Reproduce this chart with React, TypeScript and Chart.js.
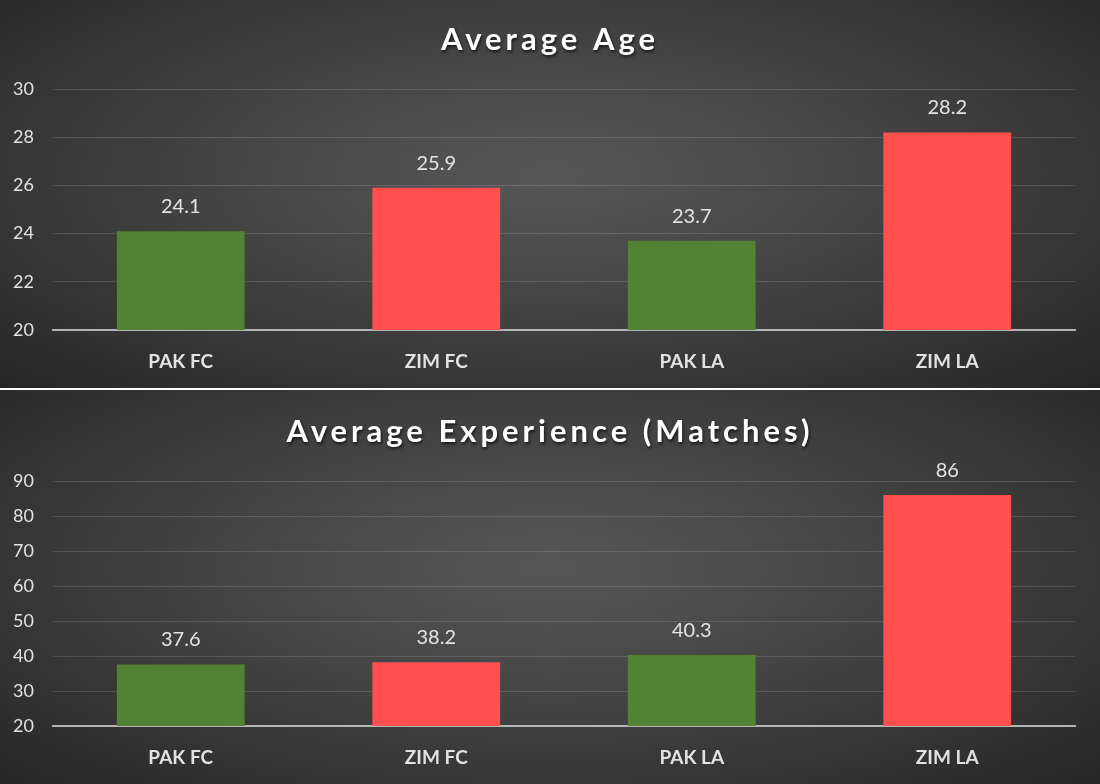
import React, { useEffect, useRef } from "react";
import { Chart, registerables } from "chart.js";

Chart.register(...registerables);

const categories = ["PAK FC", "ZIM FC", "PAK LA", "ZIM LA"];
const ageValues = [24.1, 25.9, 23.7, 28.2];
const experienceValues = [37.6, 38.2, 40.3, 86];
const barColors = ["#548235", "#FF4F4F", "#548235", "#FF4F4F"];
const ageTitle = "Average Age";
const experienceTitle = "Average Experience (Matches)";
const ageTicks = { min: 20, max: 30, step: 2 };
const experienceTicks = { min: 20, max: 90, step: 10 };

const FONT = "Lato, 'Open Sans', sans-serif";

type PanelProps = {
  title: string;
  values: number[];
  ticks: { min: number; max: number; step: number };
  width: number;
  height: number;
  top: number;
  padTop: number;
  titleY: number;
};

function ChartPanel({ title, values, ticks, width, height, top, padTop, titleY }: PanelProps) {
  const ref = useRef<HTMLCanvasElement | null>(null);

  useEffect(() => {
    if (!ref.current) return;
    const valueLabels = {
      id: "valueLabels",
      afterDatasetsDraw(chart: any) {
        const ctx = chart.ctx;
        const meta = chart.getDatasetMeta(0);
        ctx.save();
        ctx.font = `20px ${FONT}`;
        ctx.fillStyle = "#e4e4e4";
        ctx.textAlign = "center";
        ctx.textBaseline = "alphabetic";
        meta.data.forEach((bar: any, i: number) => {
          ctx.fillText(String(chart.data.datasets[0].data[i]), bar.x, bar.y - 18);
        });
        ctx.restore();
      },
    };
    const titlePlugin = {
      id: "shadowTitle",
      afterDraw(chart: any) {
        const ctx = chart.ctx;
        ctx.save();
        ctx.font = `bold 31px ${FONT}`;
        (ctx as any).letterSpacing = "4px";
        ctx.fillStyle = "#ffffff";
        ctx.textAlign = "center";
        ctx.textBaseline = "middle";
        ctx.shadowColor = "rgba(0,0,0,0.65)";
        ctx.shadowBlur = 3;
        ctx.shadowOffsetX = 1;
        ctx.shadowOffsetY = 2;
        ctx.fillText(title, chart.width / 2, titleY);
        ctx.restore();
      },
    };
    const chart = new Chart(ref.current, {
      type: "bar",
      data: {
        labels: categories,
        datasets: [
          {
            data: values,
            backgroundColor: barColors,
            borderWidth: 0,
            barPercentage: 1,
            categoryPercentage: 0.5,
          },
        ],
      },
      options: {
        animation: false,
        responsive: false,
        maintainAspectRatio: false,
        layout: { padding: { top: padTop, right: 25, left: 0, bottom: 0 } },
        plugins: {
          legend: { display: false },
          tooltip: { enabled: false },
          title: { display: false },
        },
        scales: {
          x: {
            grid: { display: false, drawTicks: false },
            border: { display: true, color: "#b4b4b4", width: 2 },
            ticks: {
              color: "#e2e2e2",
              font: { family: FONT, size: 19, weight: "bold" },
              padding: 20,
            },
            afterFit: (s: any) => {
              s.height = 58;
            },
          },
          y: {
            min: ticks.min,
            max: ticks.max,
            grid: {
              drawTicks: false,
              color: (c: any) => (c.tick && c.tick.value === ticks.min ? "rgba(0,0,0,0)" : "rgba(255,255,255,0.13)"),
              lineWidth: 1,
            },
            border: { display: false },
            ticks: {
              stepSize: ticks.step,
              color: "#e2e2e2",
              font: { family: FONT, size: 18 },
              padding: 19,
            },
            afterFit: (s: any) => {
              s.width = 53;
            },
          },
        },
      },
      plugins: [valueLabels, titlePlugin],
    });
    return () => chart.destroy();
  }, [title, values, ticks, width, height, padTop, titleY]);

  return (
    <div
      style={{
        position: "absolute",
        left: 0,
        top,
        width,
        height,
        background: "radial-gradient(ellipse farthest-corner at 50% 45%, #575757 0%, #434343 45%, #262626 100%)",
      }}
    >
      <canvas ref={ref} width={width} height={height} style={{ display: "block", width, height }} />
    </div>
  );
}

export default function App() {
  return (
    <div style={{ position: "absolute", left: 0, top: 0, width: 1100, height: 784, background: "#2a2a2a" }}>
      <ChartPanel title={ageTitle} values={ageValues} ticks={ageTicks} width={1100} height={388} top={0} padTop={89} titleY={40} />
      <div style={{ position: "absolute", left: 0, top: 388, width: 1100, height: 2, background: "#ffffff" }} />
      <ChartPanel
        title={experienceTitle}
        values={experienceValues}
        ticks={experienceTicks}
        width={1100}
        height={394}
        top={390}
        padTop={91}
        titleY={42}
      />
    </div>
  );
}
